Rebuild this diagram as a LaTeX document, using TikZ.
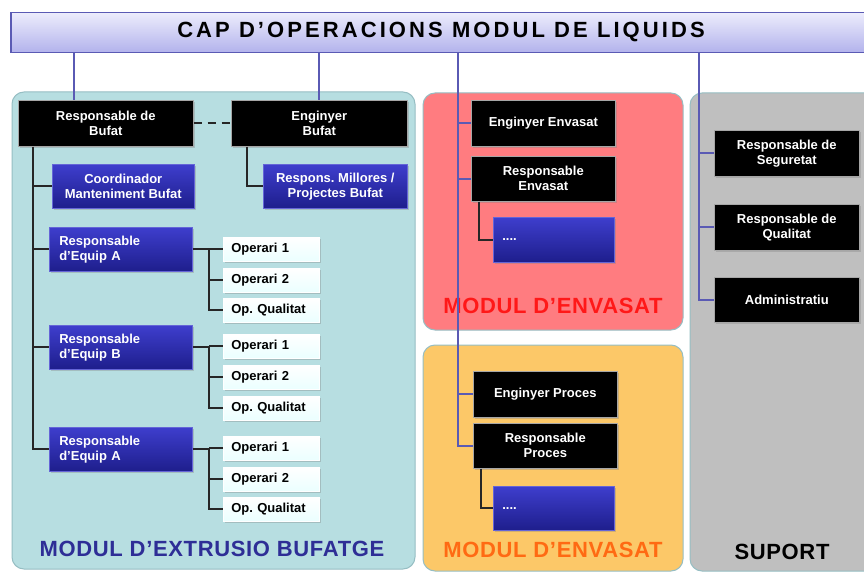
\documentclass[tikz,border=0pt]{standalone}
\usepackage{fontspec}
\setmainfont{Liberation Sans}
\newfontfamily\titlefont[LetterSpace=14]{Liberation Sans}
\newfontfamily\panelfont[LetterSpace=3]{Liberation Sans}
\usetikzlibrary{shadows,calc}
\frenchspacing
\definecolor{tealc}{RGB}{183,222,225}
\definecolor{tealb}{RGB}{150,190,195}
\definecolor{redc}{RGB}{255,124,128}
\definecolor{orangec}{RGB}{252,200,104}
\definecolor{grayc}{RGB}{191,191,191}
\definecolor{purplec}{RGB}{90,90,180}
\definecolor{navyc}{RGB}{46,46,150}
\definecolor{redtext}{RGB}{255,24,24}
\definecolor{orangetext}{RGB}{255,106,19}
\definecolor{bluetop}{RGB}{62,62,205}
\definecolor{bluebot}{RGB}{30,30,140}
\definecolor{bartop}{RGB}{236,236,252}
\definecolor{barbot}{RGB}{178,178,236}
\begin{document}
\begin{tikzpicture}[x=1pt,y=-1pt,
  panel/.style={draw=tealb, line width=1pt, rounded corners=12pt},
  boxbase/.style={rectangle, anchor=north west, inner sep=0pt,
     font=\frenchspacing\bfseries\fontsize{13}{15}\selectfont,
     drop shadow={shadow xshift=1.5pt, shadow yshift=-1.5pt, opacity=0.35}},
  bbox/.style={boxbase, fill=black, draw=gray!70, line width=0.6pt, text=white, align=center},
  bluebox/.style={boxbase, top color=bluetop, bottom color=bluebot, draw=bluetop!80!white, line width=0.6pt, text=white, align=center},
  blueleft/.style={bluebox, align=left},
  opbox/.style={boxbase, top color=white, bottom color=cyan!8, draw=white, line width=0.5pt, text=black, align=left},
  pline/.style={draw=purplec, line width=2.2pt},
  kline/.style={draw=black!85, line width=2pt},
  plabel/.style={font=\panelfont\bfseries\fontsize{22}{22}\selectfont}
]
\useasboundingbox (0,0) rectangle (864,572);
\clip (0,0) rectangle (864,572);
\fill[white] (0,0) rectangle (864,572);

% panels
\path[panel, fill=tealc] (12,92) rectangle (415,569);
\path[panel, fill=redc] (423,93) rectangle (683,330);
\path[panel, fill=orangec] (423,345) rectangle (683,571);
\path[panel, fill=grayc] (690,93) rectangle (900,571);

% panel labels
\node[plabel, text=navyc] (l1) at (212,549) {MODUL D’EXTRUSIO BUFATGE};
\node[plabel, text=redtext] (l2) at (553,306) {MODUL D’ENVASAT};
\node[plabel, text=orangetext] (l3) at (553,550) {MODUL D’ENVASAT};
\node[plabel, text=black] (l4) at (782,552) {SUPORT};

% title bar
\node[rectangle, anchor=north west, minimum width=870pt, minimum height=40pt,
  top color=bartop, bottom color=barbot, draw=purplec, line width=1.5pt] (bar) at (10,12) {};
\node[font=\titlefont\bfseries\fontsize{22}{22}\selectfont] (title) at (441,32) {CAP D’OPERACIONS MODUL DE LIQUIDS};

% boxes - extrusio
\node[bbox, minimum width=175pt, minimum height=46pt] (rb) at (18,100) {Responsable de\\Bufat};
\node[bbox, minimum width=176pt, minimum height=46pt] (eb) at (231,100) {Enginyer\\Bufat};
\node[bluebox, minimum width=142pt, minimum height=44pt] (coord) at (52,164) {Coordinador\\Manteniment Bufat};
\node[bluebox, minimum width=144pt, minimum height=44pt] (rm) at (263,164) {Respons. Millores /\\Projectes Bufat};
\node[blueleft, text width=123pt, inner xsep=10pt, minimum height=44pt] (ra) at (49,227) {Responsable\\d’Equip A};
\node[blueleft, text width=123pt, inner xsep=10pt, minimum height=44pt] (rbb) at (49,325) {Responsable\\d’Equip B};
\node[blueleft, text width=123pt, inner xsep=10pt, minimum height=44pt] (rc) at (49,427) {Responsable\\d’Equip A};

\foreach \g/\ya/\yb/\yc in {1/237/268/298, 2/334/365/396, 3/436/467/497}{
  \node[opbox, text width=80pt, inner xsep=8pt, minimum height=24pt] (o\g a) at (223,\ya) {Operari 1};
  \node[opbox, text width=80pt, inner xsep=8pt, minimum height=24pt] (o\g b) at (223,\yb) {Operari 2};
  \node[opbox, text width=80pt, inner xsep=8pt, minimum height=24pt] (o\g c) at (223,\yc) {Op. Qualitat};
}

% boxes - envasat
\node[bbox, minimum width=144pt, minimum height=46pt] (ee) at (471,100) {Enginyer Envasat};
\node[bbox, minimum width=144pt, minimum height=45pt] (re) at (471,156) {Responsable\\Envasat};
\node[blueleft, text width=103pt, inner xsep=9pt, minimum height=45pt] (d1) at (493,217) {....};
\node[bbox, minimum width=144pt, minimum height=46pt] (ep) at (473,371) {Enginyer Proces};
\node[bbox, minimum width=144pt, minimum height=45pt] (rp) at (473,423) {Responsable\\Proces};
\node[blueleft, text width=103pt, inner xsep=9pt, minimum height=44pt] (d2) at (493,486) {....};

% boxes - suport
\node[bbox, minimum width=145pt, minimum height=46pt] (seg) at (714,130) {Responsable de\\Seguretat};
\node[bbox, minimum width=145pt, minimum height=46pt] (qual) at (714,204) {Responsable de\\Qualitat};
\node[bbox, minimum width=145pt, minimum height=45pt] (adm) at (714,277) {Administratiu};

% purple connectors
\draw[pline] (bar.south -| 74,0) -- (74,0 |- rb.north);
\draw[pline] (bar.south -| 319,0) -- (319,0 |- eb.north);
\draw[pline] (bar.south -| 458,0) |- (rp.west);
\draw[pline] (458,0 |- ee.west) -- (ee.west);
\draw[pline] (458,0 |- re.west) -- (re.west);
\draw[pline] (458,0 |- ep.west) -- (ep.west);
\draw[pline] (bar.south -| 699,0) |- (adm.west);
\draw[pline] (699,0 |- seg.west) -- (seg.west);
\draw[pline] (699,0 |- qual.west) -- (qual.west);

% black connectors
\draw[kline, dash pattern=on 8pt off 6pt] (rb.east) -- (eb.west);
\draw[kline] (rb.south -| 33,0) |- (rc.west);
\draw[kline] (33,0 |- coord.west) -- (coord.west);
\draw[kline] (33,0 |- ra.west) -- (ra.west);
\draw[kline] (33,0 |- rbb.west) -- (rbb.west);
\draw[kline] (eb.south -| 247,0) |- (rm.west);
\foreach \r/\g in {ra/1, rbb/2, rc/3}{
  \draw[kline] (\r.east) -- (209,0 |- \r.east);
  \draw[kline] (209,0 |- o\g a.west) |- (o\g c.west);
  \draw[kline] (209,0 |- o\g a.west) -- (o\g a.west);
  \draw[kline] (209,0 |- o\g b.west) -- (o\g b.west);
}
\draw[kline] (re.south -| 479,0) |- (d1.west);
\draw[kline] (rp.south -| 481,0) |- (d2.west);
\end{tikzpicture}
\end{document}
